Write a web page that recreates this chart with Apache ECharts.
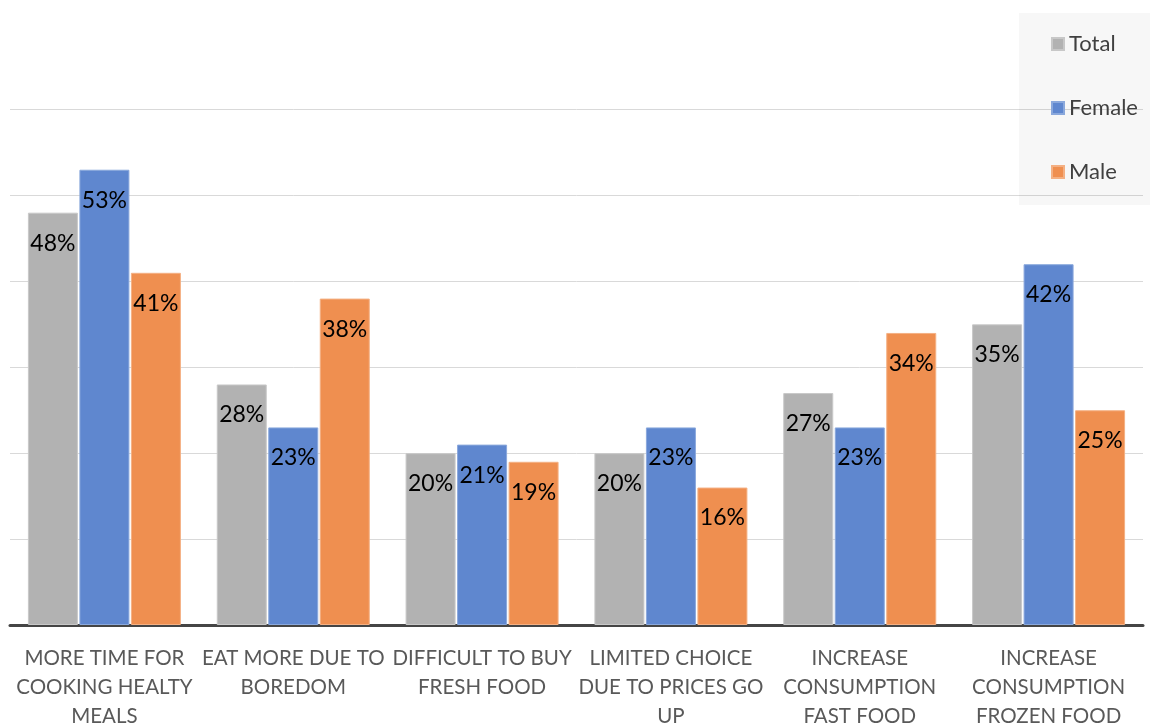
<!DOCTYPE html>
<html>
<head>
<meta charset="utf-8">
<script src="https://cdn.jsdelivr.net/npm/echarts@6/dist/echarts.min.js"></script>
<style>
  html, body { margin: 0; padding: 0; background: #fff; overflow: hidden; }
  #chart { width: 1150px; height: 724px; }
</style>
</head>
<body>
<div id="chart"></div>
<script>
// Reasons for changed eating habits, share of respondents (%)
const categories = [
  'MORE TIME FOR\nCOOKING HEALTY\nMEALS',
  'EAT MORE DUE TO\nBOREDOM',
  'DIFFICULT TO BUY\nFRESH FOOD',
  'LIMITED CHOICE\nDUE TO PRICES GO\nUP',
  'INCREASE\nCONSUMPTION\nFAST FOOD',
  'INCREASE\nCONSUMPTION\nFROZEN FOOD'
];
const totalValues  = [48, 28, 20, 20, 27, 35];
const femaleValues = [53, 23, 21, 23, 23, 42];
const maleValues   = [41, 38, 19, 16, 34, 25];
const yTicks = { min: 0, max: 60, interval: 10 };

const FONT = 'Lato, "Open Sans", sans-serif';

function barSeries(name, data, color, border) {
  return {
    name: name,
    type: 'bar',
    data: data,
    barWidth: 50,
    barGap: '3%',
    itemStyle: { color: color, borderColor: border, borderWidth: 1 },
    label: {
      show: true,
      position: 'insideTop',
      distance: 19,
      formatter: '{c}%',
      color: '#000',
      fontFamily: FONT,
      fontSize: 23
    }
  };
}

const chart = echarts.init(document.getElementById('chart'), null, {
  renderer: 'canvas', width: 1150, height: 724
});
chart.setOption({
  animation: false,
  backgroundColor: '#ffffff',
  grid: {
    left: 10, right: 7, top: 109.6, bottom: 99,
    containLabel: false,
    outerBoundsMode: 'none'
  },
  legend: {
    orient: 'vertical',
    left: 1019,
    top: 13,
    padding: [19, 20, 21, 32],
    itemGap: 40,
    itemWidth: 12,
    itemHeight: 12,
    icon: 'rect',
    backgroundColor: 'rgba(0,0,0,0.03)',
    textStyle: { fontFamily: FONT, fontSize: 22, color: '#404040', lineHeight: 24 },
    data: ['Total', 'Female', 'Male']
  },
  xAxis: {
    type: 'category',
    data: categories,
    axisTick: { show: false },
    axisLine: { lineStyle: { color: '#454545', width: 3 } },
    axisLabel: {
      interval: 0,
      margin: 19,
      color: '#595959',
      fontFamily: FONT,
      fontSize: 20.5,
      lineHeight: 29
    }
  },
  yAxis: {
    type: 'value',
    min: yTicks.min,
    max: yTicks.max,
    interval: yTicks.interval,
    axisLabel: { show: false },
    axisLine: { show: false },
    axisTick: { show: false },
    splitLine: { lineStyle: { color: '#D9D9D9', width: 1 } }
  },
  series: [
    barSeries('Total',  totalValues,  '#B2B2B2', '#C8C8C8'),
    barSeries('Female', femaleValues, '#5F87CF', '#8AA8DC'),
    barSeries('Male',   maleValues,   '#EF8F50', '#F4B083')
  ]
});
</script>
</body>
</html>
